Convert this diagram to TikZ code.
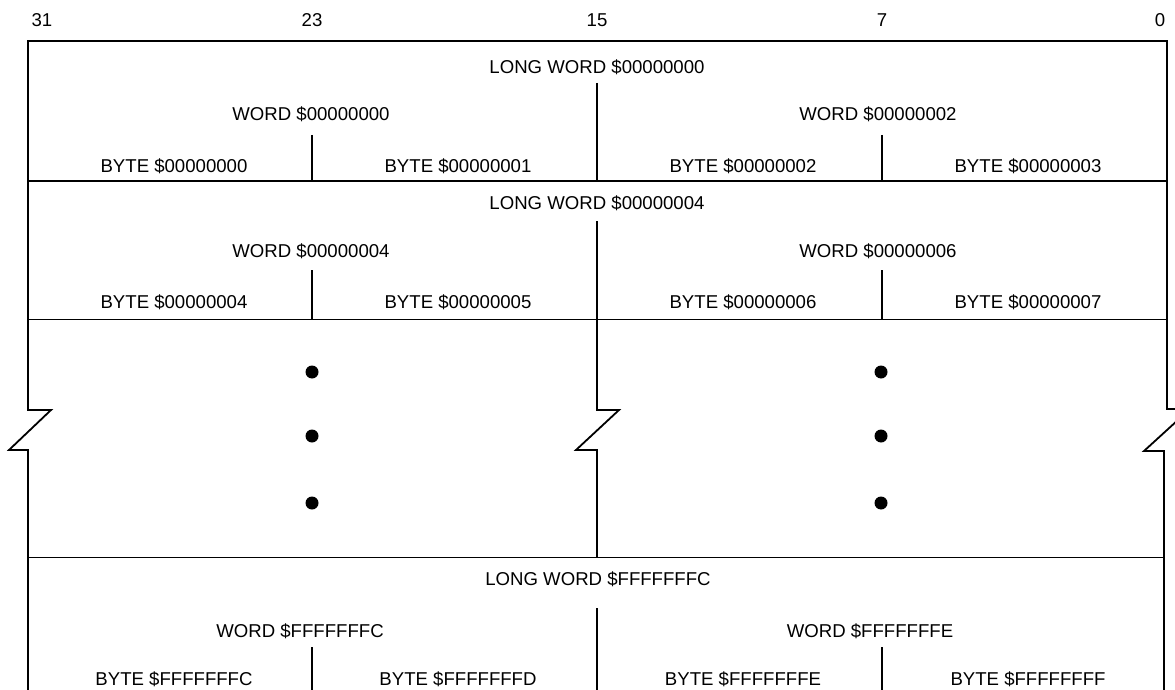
\documentclass[tikz,border=0pt]{standalone}
\usepackage{fontspec}
\setmainfont{Liberation Sans}
\begin{document}
\begin{tikzpicture}[x=1pt,y=-1pt,
  frame/.style={line width=1.8pt, line join=miter},
  gridline/.style={line width=1.2pt},
  lbl/.style={font=\fontsize{18.6}{22}\selectfont, anchor=base, inner sep=0pt},
  dotmark/.style={circle, fill=black, draw=none, minimum size=13pt, inner sep=0pt}]
\useasboundingbox (0,0) rectangle (1175,690);
\clip (0,0) rectangle (1175,690);

% bit numbers
\node[lbl] (b31) at (42,27) {31};
\node[lbl] (b23) at (312,27) {23};
\node[lbl] (b15) at (597,27) {15};
\node[lbl] (b7)  at (882,27) {7};
\node[lbl] (b0)  at (1160,27) {0};

% outer frame
\draw[frame] (28,700) -- (28,450) -- (9,450) -- (51,410) -- (28,410) -- (28,41) -- (1167,41) -- (1167,409) -- (1190,409) -- (1144,451) -- (1164,451) -- (1164,700);

% horizontal separators
\draw[gridline] (28,181) -- (1167,181);
\draw[gridline] (28,319.5) -- (1167,319.5);
\draw[gridline] (28,557.5) -- (1164,557.5);

% row 1
\node[lbl] (lw0) at (597,74) {LONG WORD \$00000000};
\node[lbl] (w0) at (311,121) {WORD \$00000000};
\node[lbl] (w2) at (878,121) {WORD \$00000002};
\node[lbl] (by0) at (174,172) {BYTE \$00000000};
\node[lbl] (by1) at (458,172) {BYTE \$00000001};
\node[lbl] (by2) at (743,172) {BYTE \$00000002};
\node[lbl] (by3) at (1028,172) {BYTE \$00000003};
\draw[gridline] (597,83) -- (597,181);
\draw[gridline] (312,135) -- (312,181);
\draw[gridline] (882,135) -- (882,181);

% row 2
\node[lbl] (lw4) at (597,209) {LONG WORD \$00000004};
\node[lbl] (w4) at (311,257) {WORD \$00000004};
\node[lbl] (w6) at (878,257) {WORD \$00000006};
\node[lbl] (by4) at (174,308) {BYTE \$00000004};
\node[lbl] (by5) at (458,308) {BYTE \$00000005};
\node[lbl] (by6) at (743,308) {BYTE \$00000006};
\node[lbl] (by7) at (1028,308) {BYTE \$00000007};
\draw[gridline] (597,221) -- (597,319.5);
\draw[gridline] (312,270) -- (312,319.5);
\draw[gridline] (882,270) -- (882,319.5);

% break region
\draw[frame] (597,319.5) -- (597,410) -- (619,410) -- (576,450) -- (597,450) -- (597,557.5);
\foreach \yy [count=\i] in {372,436,503} {
  \node[dotmark] (dl\i) at (312,\yy) {};
  \node[dotmark] (dr\i) at (881,\yy) {};
}

% last row
\node[lbl] (lwf) at (598,585) {LONG WORD \$FFFFFFFC};
\node[lbl] (wfc) at (300,637) {WORD \$FFFFFFFC};
\node[lbl] (wfe) at (870,637) {WORD \$FFFFFFFE};
\node[lbl] (byfc) at (174,685) {BYTE \$FFFFFFFC};
\node[lbl] (byfd) at (458,685) {BYTE \$FFFFFFFD};
\node[lbl] (byfe) at (743,685) {BYTE \$FFFFFFFE};
\node[lbl] (byff) at (1028,685) {BYTE \$FFFFFFFF};
\draw[gridline] (597,608) -- (597,700);
\draw[gridline] (312,647) -- (312,700);
\draw[gridline] (882,647) -- (882,700);
\end{tikzpicture}
\end{document}
